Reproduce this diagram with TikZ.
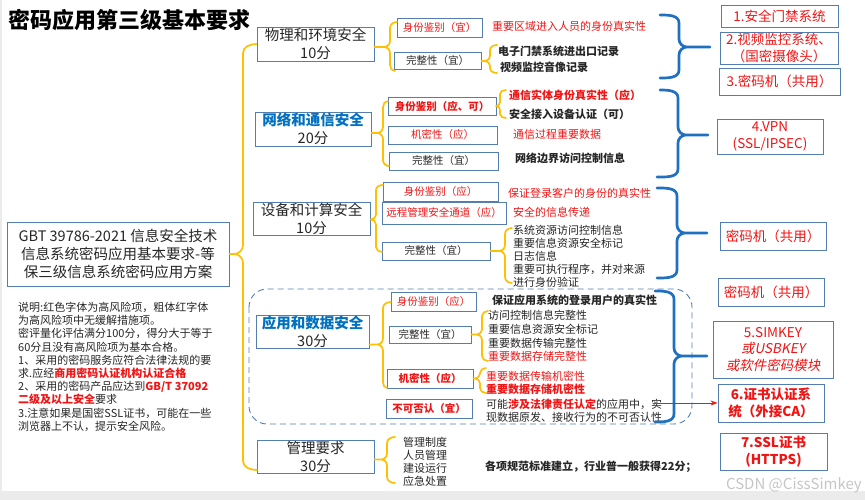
\documentclass[tikz,border=0pt]{standalone}
\usepackage{fontspec}
\setmainfont{Noto Sans CJK SC}
\newfontfamily\slfont{Noto Sans CJK SC}[FakeSlant=0.2]
\usetikzlibrary{calc,arrows.meta}
\definecolor{boxblue}{RGB}{84,126,176}
\definecolor{yel}{RGB}{255,192,0}
\definecolor{bblue}{RGB}{31,112,193}
\definecolor{hred}{RGB}{240,20,20}
\definecolor{catblue}{RGB}{0,112,192}
\definecolor{txt}{RGB}{38,38,38}
\definecolor{strip}{RGB}{235,235,235}
\newcommand\YBr[5]{%
 \draw[ybr] let \p1=(#1), \p2=(#3), \p3=(#4) in
 (\x2,\y2) to[out=180,in=90] ({#2pt},{\y2-#5pt}) -- ({#2pt},{\y1+#5pt})
 to[out=-90,in=0] ({#2pt-#5pt},\y1) -- (\x1,\y1)
 ({#2pt-#5pt},\y1) to[out=0,in=90] ({#2pt},{\y1-#5pt}) -- ({#2pt},{\y3+#5pt})
 to[out=-90,in=180] (\x3,\y3);}
\newcommand\BBr[5]{%
 \draw[bbr] let \p1=(#1), \p2=(#3), \p3=(#4) in
 (\x2,\y2) to[out=0,in=90] ({#2pt},{\y2-#5pt}) -- ({#2pt},{\y1+#5pt})
 to[out=-90,in=180] ({#2pt+#5pt},\y1) -- (\x1,\y1)
 ({#2pt+#5pt},\y1) to[out=180,in=90] ({#2pt},{\y1-#5pt}) -- ({#2pt},{\y3+#5pt})
 to[out=-90,in=0] (\x3,\y3);}
\begin{document}
\begin{tikzpicture}[x=1pt,y=-1pt,
 box/.style={draw=boxblue, line width=0.9pt, inner sep=0pt, align=center},
 cat/.style={box, font=\fontsize{14.5}{18}\selectfont, text=txt},
 sub/.style={box, font=\fontsize{10.5}{12}\selectfont, text=txt},
 subr/.style={sub, text=hred},
 subrb/.style={sub, text=hred, font=\fontsize{10.5}{12}\selectfont\bfseries},
 rbox/.style={box, font=\fontsize{13.5}{16.5}\selectfont, text=hred},
 rboxb/.style={rbox, font=\fontsize{13.5}{17}\selectfont\bfseries},
 item/.style={anchor=west, inner sep=0pt, font=\fontsize{11}{13}\selectfont, text=txt},
 itemb/.style={item, font=\fontsize{11}{13}\selectfont\bfseries},
 itemr/.style={item, text=hred},
 itemrb/.style={itemb, text=hred},
 ybr/.style={draw=yel, line width=1.7pt, line cap=round, line join=round},
 bbr/.style={draw=bblue, line width=2.7pt, line cap=round, line join=round},
]
\useasboundingbox (0,0) rectangle (865,500);
\fill[white] (0,0) rectangle (865,500);
\fill[strip] (0,491) rectangle (865,500);
\fill[strip] (0,0) rectangle (1.5,491);

% title
\node[anchor=west, inner sep=0pt, font=\fontsize{22}{24}\selectfont\bfseries] (title) at (8,20) {密码应用第三级基本要求};

% main box and notes
\node[box, text=txt, font=\fontsize{14.5}{18}\selectfont, minimum width=222pt, minimum height=64pt] (main) at (118,254) {GBT 39786-2021 信息安全技术\\信息系统密码应用基本要求-等\\保三级信息系统密码应用方案};
\node[anchor=north west, inner sep=0pt, align=left, text=txt, font=\fontsize{11}{13.2}\selectfont] (notes) at (18,302) {说明:红色字体为高风险项，粗体红字体\\为高风险项中无缓解措施项。\\密评量化评估满分100分，得分大于等于\\60分且没有高风险项为基本合格。\\1、采用的密码服务应符合法律法规的要\\求.应经\textcolor{hred}{\bfseries 商用密码认证机构认证合格}\\2、采用的密码产品应达到\textcolor{hred}{\bfseries GB/T 37092}\\\textcolor{hred}{\bfseries 二级及以上安全}要求\\3.注意如果是国密SSL证书，可能在一些\\浏览器上不认，提示安全风险。};

% dashed region
\draw[boxblue, dashed, dash pattern=on 6pt off 4pt, line width=0.9pt, rounded corners=18pt] (249,289) rectangle (692,424);

% categories
\node[cat, minimum width=117pt, minimum height=34pt] (cat1) at (315.5,44) {物理和环境安全\\10分};
\node[cat, minimum width=116pt, minimum height=34pt] (cat2) at (313,129) {\textcolor{catblue}{\bfseries 网络和通信安全}\\20分};
\node[cat, minimum width=117pt, minimum height=33pt] (cat3) at (311.5,218.5) {设备和计算安全\\10分};
\node[cat, minimum width=113pt, minimum height=33pt] (cat4) at (312.5,331.5) {\textcolor{catblue}{\bfseries 应用和数据安全}\\30分};
\node[cat, minimum width=117pt, minimum height=33pt] (cat5) at (315.5,456.5) {管理要求\\30分};

% sub boxes
\node[subr, minimum width=85pt, minimum height=19pt] (a1) at (439.5,27.5) {身份鉴别（宜）};
\node[sub, minimum width=87pt, minimum height=17pt] (a2) at (437.5,61) {完整性（宜）};
\node[subrb, minimum width=108pt, minimum height=18pt] (b1) at (442,106) {身份鉴别（应、可）};
\node[subr, minimum width=109pt, minimum height=18pt] (b2) at (442.5,135) {机密性（应）};
\node[sub, minimum width=109pt, minimum height=18pt] (b3) at (443.5,161) {完整性（宜）};
\node[subr, minimum width=115pt, minimum height=19pt] (c1) at (440.5,191.5) {身份鉴别（应）};
\node[subr, minimum width=124pt, minimum height=22pt] (c2) at (444,213) {远程管理安全通道（应）};
\node[sub, minimum width=108pt, minimum height=18pt] (c3) at (436,251) {完整性（宜）};
\node[subr, minimum width=85pt, minimum height=19pt] (d1) at (433.5,301.5) {身份鉴别（应）};
\node[sub, minimum width=82pt, minimum height=17pt] (d2) at (430,334.5) {完整性（宜）};
\node[subrb, minimum width=86pt, minimum height=19pt] (d3) at (430,378.5) {机密性（应）};
\node[subrb, minimum width=86pt, minimum height=19pt] (d4) at (429,408.5) {不可否认（宜）};

% items
\node[itemr] (t0) at (492,26) {重要区域进入人员的身份真实性};
\node[itemb] (t1) at (498,51) {电子门禁系统进出口记录};
\node[itemb] (t2) at (500,67) {视频监控音像记录};
\node[itemrb] (u1) at (509,95) {通信实体身份真实性（应）};
\node[itemb] (u2) at (509,114) {安全接入设备认证（可）};
\node[itemr] (u3) at (513,134) {通信过程重要数据};
\node[itemb] (u4) at (515,158) {网络边界访问控制信息};
\node[itemr] (v1) at (508,193) {保证登录客户的身份的真实性};
\node[itemr] (v2) at (513,212) {安全的信息传递};
\node[item] (v3) at (513,230) {系统资源访问控制信息};
\node[item] (v4) at (513,243) {重要信息资源安全标记};
\node[item] (v5) at (513,256) {日志信息};
\node[item] (v6) at (513,269) {重要可执行程序，并对来源};
\node[item] (v7) at (513,282) {进行身份验证};
\node[itemb] (w1) at (492,300) {保证应用系统的登录用户的真实性};
\node[item] (w2) at (488,315) {访问控制信息完整性};
\node[item] (w3) at (488,329) {重要信息资源安全标记};
\node[item] (w4) at (488,343) {重要数据传输完整性};
\node[itemr] (w5) at (488,356) {重要数据存储完整性};
\node[itemr] (w6) at (486,376) {重要数据传输机密性};
\node[itemrb] (w7) at (486,389) {重要数据存储机密性};
\node[item] (w8) at (486,404) {可能\textcolor{hred}{\bfseries 涉及法律责任认定}的应用中，实};
\node[item] (w9) at (486,417) {现数据原发、接收行为的不可否认性};
\node[item] (m1) at (403,442) {管理制度};
\node[item] (m2) at (403,455) {人员管理};
\node[item] (m3) at (403,468) {建设运行};
\node[item] (m4) at (403,481) {应急处置};
\node[itemb] (m5) at (485,467) {各项规范标准建立，行业普一般获得22分；};

% right boxes
\node[rbox, minimum width=117pt, minimum height=22pt] (r1) at (779.5,16) {1.安全门禁系统};
\node[rbox, minimum width=118pt, minimum height=32pt] (r2) at (779,48) {2.视频监控系统、\\（国密摄像头）};
\node[rbox, minimum width=121pt, minimum height=27pt] (r3) at (779.5,81.5) {3.密码机（共用）};
\node[rbox, minimum width=106pt, minimum height=35pt] (r4) at (770,136.5) {4.VPN\\(SSL/IPSEC)};
\node[rbox, minimum width=106pt, minimum height=28pt] (r5) at (773,236) {密码机（共用）};
\node[rbox, minimum width=106pt, minimum height=28pt] (r6) at (771,292) {密码机（共用）};
\node[rbox, minimum width=120pt, minimum height=57pt] (r7) at (773,349.5) {5.SIMKEY\\{\slfont 或USBKEY}\\{\slfont 或软件密码模块}};
\node[rboxb, minimum width=106pt, minimum height=38pt] (r8) at (771,403) {6.证书认证系\\统（外接CA）};
\node[rboxb, minimum width=107pt, minimum height=37pt] (r9) at (773.5,451.5) {7.SSL证书\\(HTTPS)};

% yellow brace end points
\coordinate (mb) at (257,470);
\coordinate (c1t) at (397,22); \coordinate (c1b) at (395,71);
\coordinate (a2t) at (497,45); \coordinate (a2b) at (497,73);
\coordinate (c2t) at (388,101); \coordinate (c2b) at (389,166);
\coordinate (b1t) at (506,90); \coordinate (b1b) at (506,118);
\coordinate (c3t) at (383,185); \coordinate (c3b) at (382,252);
\coordinate (cc3t) at (512,228); \coordinate (cc3b) at (512,283);
\coordinate (c4t) at (391,302); \coordinate (c4b) at (387,388);
\coordinate (d2t) at (488,311); \coordinate (d2b) at (488,361);
\coordinate (d3t) at (486,368); \coordinate (d3b) at (486,393);
\coordinate (c5t) at (395,437); \coordinate (c5b) at (395,483);

\YBr{main.east}{243}{cat1.west}{mb}{9}
\YBr{$(cat1.east)+(0,3)$}{390}{c1t}{c1b}{6}
\YBr{a2.east}{490}{a2t}{a2b}{5}
\YBr{$(cat2.east)+(0,4)$}{383}{c2t}{c2b}{6}
\YBr{b1.east}{500}{b1t}{b1b}{4}
\YBr{$(cat3.east)+(0,1)$}{376}{c3t}{c3b}{5}
\YBr{c3.east}{505}{cc3t}{cc3b}{6}
\YBr{$(cat4.east)+(0,13)$}{383}{c4t}{c4b}{6}
\YBr{d2.east}{482}{d2t}{d2b}{5}
\YBr{d3.east}{480}{d3t}{d3b}{5}
\YBr{$(cat5.east)+(0,3)$}{387}{c5t}{c5b}{6}

% blue braces
\coordinate (B1t) at (660,15); \coordinate (B1b) at (660,78); \coordinate (B1c) at (710,47);
\coordinate (B2t) at (660,90); \coordinate (B2b) at (657,177); \coordinate (B2c) at (708,135);
\coordinate (B3t) at (657,188); \coordinate (B3b) at (657,278); \coordinate (B3c) at (707,233);
\coordinate (B4t) at (655,291); \coordinate (B4b) at (655,422); \coordinate (B4c) at (707,356);
\BBr{B1c}{679}{B1t}{B1b}{8}
\BBr{B2c}{678}{B2t}{B2b}{8}
\BBr{B3c}{677}{B3t}{B3b}{8}
\BBr{B4c}{674}{B4t}{B4b}{8}

% red arrow
\coordinate (arrs) at (653,403);
\draw[hred, line width=0.8pt, -{Stealth[length=7pt,width=5pt]}] (arrs) -- (r8.west);

% watermark
\node[anchor=east, inner sep=0pt, text=gray!45, font=\fontsize{15}{15}\selectfont] (wm) at (862,485) {CSDN @CissSimkey};
\end{tikzpicture}
\end{document}
